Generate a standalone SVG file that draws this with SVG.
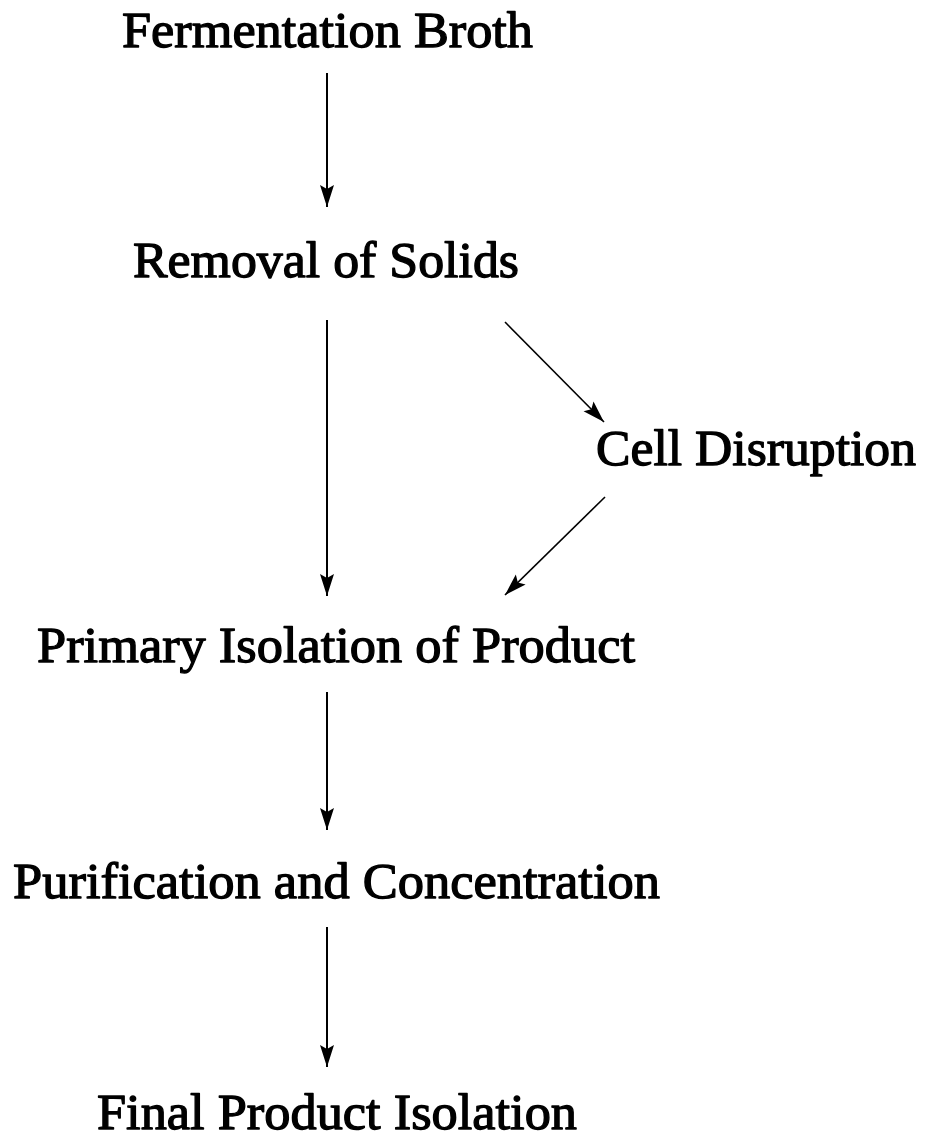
<svg xmlns="http://www.w3.org/2000/svg" width="926" height="1141" viewBox="0 0 926 1141">
<defs>
<style>
.lbl{font-family:"Liberation Serif","Times New Roman",serif;font-size:51px;fill:#000;stroke:#000;stroke-width:1.3;stroke-linejoin:round}
.c line{stroke:#000;stroke-width:2;fill:none}
.c line.d{stroke-width:1.6}
</style>
<marker id="ah" markerUnits="userSpaceOnUse" markerWidth="24" markerHeight="16" viewBox="0 0 24 16" refX="22" refY="8" orient="auto">
<path d="M0,1 L22,8 L0,15 L4,8 Z" fill="#000"/>
</marker>
</defs>
<rect width="926" height="1141" fill="#fff"/>
<g id="n1"><text class="lbl" x="122" y="47" textLength="411" lengthAdjust="spacingAndGlyphs">Fermentation Broth</text></g>
<g id="n2"><text class="lbl" x="133" y="277" textLength="386" lengthAdjust="spacingAndGlyphs">Removal of Solids</text></g>
<g id="n3"><text class="lbl" x="596" y="465" textLength="320" lengthAdjust="spacingAndGlyphs">Cell Disruption</text></g>
<g id="n4"><text class="lbl" x="37" y="662" textLength="598" lengthAdjust="spacingAndGlyphs">Primary Isolation of Product</text></g>
<g id="n5"><text class="lbl" x="13" y="898" textLength="647" lengthAdjust="spacingAndGlyphs">Purification and Concentration</text></g>
<g id="n6"><text class="lbl" x="97" y="1129" textLength="480" lengthAdjust="spacingAndGlyphs">Final Product Isolation</text></g>
<g id="connectors" class="c">
<line x1="327" y1="73" x2="327" y2="207" marker-end="url(#ah)"/>
<line x1="327" y1="320" x2="327" y2="596" marker-end="url(#ah)"/>
<line class="d" x1="505" y1="322" x2="604" y2="422" marker-end="url(#ah)"/>
<line class="d" x1="605" y1="497" x2="505" y2="595" marker-end="url(#ah)"/>
<line x1="327" y1="692" x2="327" y2="830" marker-end="url(#ah)"/>
<line x1="327" y1="927" x2="327" y2="1067" marker-end="url(#ah)"/>
</g>
</svg>
